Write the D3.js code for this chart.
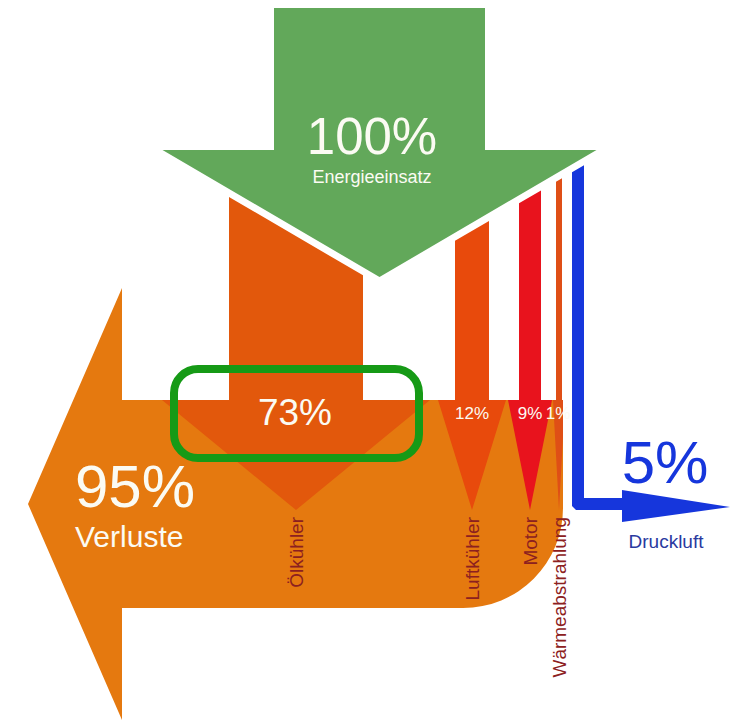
<!DOCTYPE html>
<html>
<head>
<meta charset="utf-8">
<script src="https://cdn.jsdelivr.net/npm/d3@7"></script>
<style>
html,body{margin:0;padding:0;background:#fff;}
svg{display:block;font-family:"Liberation Sans",Arial,sans-serif;}
</style>
</head>
<body>
<svg id="chart" width="737" height="723"></svg>
<script>
// ---- data ----
const inputValue = 100;
const inputLabel = "Energieeinsatz";
const lossCategories = ["Ölkühler", "Luftkühler", "Motor", "Wärmeabstrahlung"];
const lossValues = [73, 12, 9, 1];
const lossTotal = 95;
const lossLabel = "Verluste";
const usefulValue = 5;
const usefulLabel = "Druckluft";
const highlightedCategory = "Ölkühler";

// ---- styles ----
const lossColors = ["#e2580c", "#e84a0c", "#e8131d", "#df4f16"];
const C = {
  green: "#62a85a", orange: "#e5790f", blue: "#1636dc",
  label: "#8c2020", box: "#169a16", white: "#fbfbf3", druck: "#2a3aa0"
};

const svg = d3.select("#chart");

// width scale (flow value -> band width)
const wScale = d3.scaleLinear().domain([0, 1, 5, 9, 12, 73]).range([0, 6, 12, 22, 34, 134]);
// vertical levels
const y = d3.scaleLinear().domain([0, 1]).range([8, 400]);   // 0 = top of input, 1 = loss shaft top
const lossShaftTop = y(1), lossShaftBottom = 608;
const tipY = 510;

// input arrow geometry
const inShaftW = 211, inCx = 379.5, headBaseY = 150, headTipY = 277, headHalf = 217;
const edgeSlope = (headTipY - headBaseY) / headHalf;
const edgeY = x => headTipY - edgeSlope * Math.abs(x - inCx);
const gapOffset = 8;

// columns layout
const gaps = [92, 30, 15, 10];
let cursor = 229;
const cols = lossValues.map((v, i) => {
  const w = wScale(v);
  const c = { name: lossCategories[i], value: v, x0: cursor, x1: cursor + w, w, color: lossColors[i] };
  cursor += w + gaps[i];
  return c;
});
const blueW = wScale(usefulValue);
const blue = { x0: cursor, x1: cursor + blueW };
const lossRight = cols[cols.length - 1].x1 + 1;

// ---- loss arrow (big orange) ----
const headX = 122, headTipX = 28, r = 100;
const lossPath = d3.path();
lossPath.moveTo(headX, 288);
lossPath.lineTo(headX, lossShaftTop);
lossPath.lineTo(lossRight, lossShaftTop);
lossPath.lineTo(lossRight, lossShaftBottom - r);
lossPath.arc(lossRight - r, lossShaftBottom - r, r, 0, Math.PI / 2);
lossPath.lineTo(headX, lossShaftBottom);
lossPath.lineTo(headX, 720);
lossPath.lineTo(headTipX, (288 + 720) / 2);
lossPath.closePath();
svg.append("path").attr("d", lossPath.toString()).attr("fill", C.orange);

// clip for flows
svg.append("clipPath").attr("id", "lossClip")
  .append("rect").attr("x", 0).attr("y", 0).attr("width", lossRight).attr("height", 723);

// ---- loss flows: column + arrow head ----
svg.append("g").attr("clip-path", "url(#lossClip)")
  .selectAll("path").data(cols).join("path")
  .attr("fill", d => d.color)
  .attr("d", d => {
    const cx = (d.x0 + d.x1) / 2;
    const p = d3.path();
    p.moveTo(d.x0, edgeY(d.x0) + gapOffset);
    p.lineTo(d.x1, edgeY(d.x1) + gapOffset);
    p.lineTo(d.x1, lossShaftTop);
    p.lineTo(cx + d.w, lossShaftTop);
    p.lineTo(cx, tipY);
    p.lineTo(cx - d.w, lossShaftTop);
    p.lineTo(d.x0, lossShaftTop);
    p.closePath();
    return p.toString();
  });

// ---- input arrow (green) ----
const inPts = [
  [inCx - inShaftW / 2, y(0)], [inCx + inShaftW / 2, y(0)],
  [inCx + inShaftW / 2, headBaseY], [inCx + headHalf, headBaseY],
  [inCx, headTipY],
  [inCx - headHalf, headBaseY], [inCx - inShaftW / 2, headBaseY]
];
svg.append("path").attr("d", d3.line()(inPts) + "Z").attr("fill", C.green);

// ---- useful output (blue) ----
const barY = 504, barH = 12, arrowBase = 622, arrowTip = 730;
const bluePts = [
  [blue.x0, edgeY(blue.x0) + gapOffset], [blue.x1, edgeY(blue.x1) + gapOffset],
  [blue.x1, barY - barH / 2], [arrowBase, barY - barH / 2],
  [arrowBase, 490], [arrowTip, 507], [arrowBase, 522],
  [arrowBase, barY + barH / 2], [blue.x0 + 4, barY + barH / 2],
  [blue.x0, barY + barH / 2 - 4]
];
svg.append("path").attr("d", d3.line()(bluePts) + "Z").attr("fill", C.blue);

// ---- texts ----
const T = (x, yy, txt, size, fill, anchor = "middle") =>
  svg.append("text").attr("x", x).attr("y", yy).attr("text-anchor", anchor)
    .attr("font-size", size).attr("fill", fill).text(txt);

T(372, 154, inputValue + "%", 51, C.white);
T(372, 183, inputLabel, 18, C.white);
T(75, 507, lossTotal + "%", 60, C.white, "start");
T(75, 547, lossLabel, 30, C.white, "start");
T(665, 483, usefulValue + "%", 60, C.blue);
T(666, 548, usefulLabel, 19, C.druck);

// percentage labels on flows
cols.forEach((d, i) => {
  const cx = (d.x0 + d.x1) / 2;
  if (i === 0) T(cx - 1, 425, d.value + "%", 37, C.white);
  else T(cx + (i === 3 ? -1 : 0), 419, d.value + "%", 17, C.white);
});

// rotated category labels
svg.append("g").selectAll("text").data(cols).join("text")
  .attr("transform", d => `translate(${(d.x0 + d.x1) / 2 + 7},517) rotate(-90)`)
  .attr("text-anchor", "end")
  .attr("font-size", 19)
  .attr("fill", C.label)
  .text(d => d.name);

// highlight box around the main loss
const hl = cols.find(c => c.name === highlightedCategory);
const hcx = (hl.x0 + hl.x1) / 2;
svg.append("rect")
  .attr("x", hcx - 122).attr("y", 369).attr("width", 245).attr("height", 89)
  .attr("rx", 24).attr("ry", 24)
  .attr("fill", "none").attr("stroke", C.box).attr("stroke-width", 8);
</script>
</body>
</html>
